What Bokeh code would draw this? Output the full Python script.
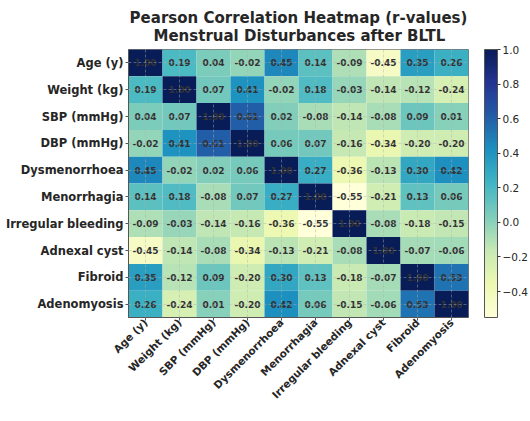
import numpy as np
from bokeh.plotting import figure
from bokeh.models import (LinearColorMapper, ColorBar, FixedTicker, CustomJSTickFormatter,
                          ColumnDataSource, FactorRange)
from bokeh.core.properties import value
from bokeh.embed import file_html
from bokeh.resources import INLINE

variables = ["Age (y)", "Weight (kg)", "SBP (mmHg)", "DBP (mmHg)", "Dysmenorrhoea",
             "Menorrhagia", "Irregular bleeding", "Adnexal cyst", "Fibroid", "Adenomyosis"]

r_age = [1.00, 0.19, 0.04, -0.02, 0.45, 0.14, -0.09, -0.45, 0.35, 0.26]
r_weight = [0.19, 1.00, 0.07, 0.41, -0.02, 0.18, -0.03, -0.14, -0.12, -0.24]
r_sbp = [0.04, 0.07, 1.00, 0.61, 0.02, -0.08, -0.14, -0.08, 0.09, 0.01]
r_dbp = [-0.02, 0.41, 0.61, 1.00, 0.06, 0.07, -0.16, -0.34, -0.20, -0.20]
r_dysmen = [0.45, -0.02, 0.02, 0.06, 1.00, 0.27, -0.36, -0.13, 0.30, 0.42]
r_menorr = [0.14, 0.18, -0.08, 0.07, 0.27, 1.00, -0.55, -0.21, 0.13, 0.06]
r_irreg = [-0.09, -0.03, -0.14, -0.16, -0.36, -0.55, 1.00, -0.08, -0.18, -0.15]
r_adnexal = [-0.45, -0.14, -0.08, -0.34, -0.13, -0.21, -0.08, 1.00, -0.07, -0.06]
r_fibroid = [0.35, -0.12, 0.09, -0.20, 0.30, 0.13, -0.18, -0.07, 1.00, 0.53]
r_adeno = [0.26, -0.24, 0.01, -0.20, 0.42, 0.06, -0.15, -0.06, 0.53, 1.00]

colorbar_ticks = [-0.4, -0.2, 0.0, 0.2, 0.4, 0.6, 0.8, 1.0]

title_line1 = "Pearson Correlation Heatmap (r-values)"
title_line2 = "Menstrual Disturbances after BLTL"

rows = [r_age, r_weight, r_sbp, r_dbp, r_dysmen, r_menorr, r_irreg, r_adnexal, r_fibroid, r_adeno]

xs, ys, vals, labels = [], [], [], []
for i, row in enumerate(rows):
    for j, v in enumerate(row):
        xs.append(variables[j])
        ys.append(variables[i])
        vals.append(v)
        labels.append(f"{v:.2f}")
src = ColumnDataSource(dict(x=xs, y=ys, v=vals, t=labels))

# YlGnBu palette interpolated to 256 steps
brewer = ["#ffffd9", "#edf8b1", "#c7e9b4", "#7fcdbb", "#41b6c4", "#1d91c0", "#225ea8", "#253494", "#081d58"]
rgb = np.array([[int(c[k:k + 2], 16) for k in (1, 3, 5)] for c in brewer], dtype=float)
pos = np.linspace(0, 1, len(brewer))
tt = np.linspace(0, 1, 256)
pal = ["#%02x%02x%02x" % tuple(int(round(np.interp(t, pos, rgb[:, k]))) for k in range(3)) for t in tt]

mapper = LinearColorMapper(palette=pal, low=-0.55, high=1.0)

FONT = "DejaVu Sans"
FW, FH = 340, 268

# second line is indented with non-breaking spaces so both lines appear centred
title_text = title_line1 + "\n" + "\u00a0" * 4 + "\u2009" + title_line2

p = figure(frame_width=FW, frame_height=FH, output_backend="svg", toolbar_location=None,
           x_range=FactorRange(*variables), y_range=FactorRange(*reversed(variables)),
           min_border_left=110, min_border_right=60, min_border_top=30, min_border_bottom=0,
           title=title_text, margin=(2, 0, 0, 2))
p.title.align = "center"
p.title.text_font = FONT
p.title.text_font_size = "15px"
p.title.text_font_style = "bold"
p.title.text_color = "#262626"
p.title.text_line_height = 1.05
p.title.standoff = 8

p.rect(x="x", y="y", width=1, height=1, source=src,
       fill_color={"field": "v", "transform": mapper}, line_color=None)
p.text(x="x", y="y", text="t", source=src, text_align="center", text_baseline="middle",
       text_font=value(FONT), text_font_size="9px", text_font_style="bold", text_color="#333333")

for g in (p.xgrid, p.ygrid):
    g.grid_line_color = "#b0b0b0"
    g.grid_line_alpha = 0.45
    g.grid_line_dash = "3 2"
    g.level = "annotation"

for ax in (p.xaxis, p.yaxis):
    ax.major_label_text_font = FONT
    ax.major_label_text_font_size = "11.5px"
    ax.major_label_text_font_style = "bold"
    ax.major_label_text_color = "#262626"
    ax.axis_line_color = "#555555"
    ax.major_tick_line_color = "#555555"
    ax.major_tick_out = 3
    ax.major_tick_in = 0
    ax.major_label_standoff = 2
p.xaxis.major_label_standoff = 0
p.xaxis.major_label_text_font_size = "10.5px"
p.xaxis.major_label_orientation = np.pi / 4
p.outline_line_color = "#777777"

cb = ColorBar(color_mapper=mapper, width=13, height=FH, padding=0, margin=0,
              location=(FW + 16, 0),
              ticker=FixedTicker(ticks=colorbar_ticks),
              formatter=CustomJSTickFormatter(code="return tick.toFixed(1).replace('-', '\u2212')"),
              major_label_text_font=FONT, major_label_text_font_size="10.5px",
              major_label_text_color="#262626",
              major_tick_in=0, major_tick_out=3, major_tick_line_color="#333333",
              label_standoff=2, bar_line_color="#555555", bar_line_width=1,
              background_fill_alpha=0, border_line_color=None)
p.add_layout(cb, "center")

open("out.html", "w").write(file_html(p, INLINE))
